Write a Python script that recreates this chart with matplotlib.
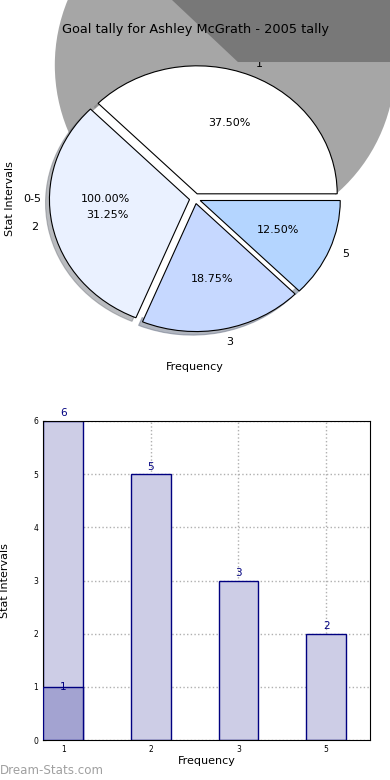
import matplotlib
matplotlib.use('Agg')
import matplotlib.pyplot as plt
from matplotlib.patches import Ellipse, Polygon

# data
title = 'Goal tally for Ashley McGrath - 2005 tally'
freq_labels = ['1', '2', '3', '5']
counts = [6, 5, 3, 2]
interval_labels = ['0-5']
interval_totals = [16]
overlay_labels = ['1']
overlay_counts = [1]

pie_colors = ['#ffffff', '#eaf1ff', '#c6d8ff', '#b4d5ff']
bar_light = '#cdcde6'
bar_dark = '#a3a3d1'
navy = '#000080'

fig = plt.figure(figsize=(3.9, 7.8), dpi=100)

# ---- pie part ----
ax1 = fig.add_axes([45/390, 1-352/780, 300/390, 300/780])
# odd grey backdrop seen in original render
ax1.add_patch(Ellipse((0.214, 1.043), 2.43, 2.66, facecolor='#a6a6a6',
                      edgecolor='none', zorder=0, clip_on=False))
fig.add_artist(Polygon([(0.441, 1.0), (0.610, 0.9205), (1.0, 0.9205), (1.0, 1.0)],
                       closed=True, transform=fig.transFigure,
                       facecolor='#787878', edgecolor='none', zorder=0.5))

ax1.pie(interval_totals, labels=interval_labels, colors=['white'],
        autopct='%.2f%%', startangle=0, pctdistance=0.64,
        wedgeprops={'linewidth': 0}, textprops={'fontsize': 8})
ax1.pie(counts, labels=freq_labels, colors=pie_colors, autopct='%.2f%%',
        explode=[0.04]*len(counts), shadow={'shade': 0.5}, startangle=0,
        wedgeprops={'linewidth': 0.8, 'edgecolor': 'black'},
        textprops={'fontsize': 8})
ax1.set_aspect('auto')
ax1.set_xlim(-1.071, 1.071)
ax1.set_ylim(-1.199, 1.145)
ax1.set_frame_on(False)
ax1.set_xticks([])
ax1.set_yticks([])
ax1.set_xlabel('Frequency', fontsize=8)
ax1.set_ylabel('Stat Intervals', fontsize=8)
ax1.xaxis.set_label_coords(0.5, -0.035)
ax1.yaxis.set_label_coords(-0.1, 0.51)
fig.text(0.5, 1-30/780, title, ha='center', va='center', fontsize=9.3, zorder=5)

# ---- bar part ----
ax2 = fig.add_axes([43/390, 40/780, 327/390, 319/780])
x = list(range(len(counts)))
ax2.bar(x, counts, width=0.45, color=bar_light, edgecolor=navy, linewidth=1, zorder=2)
ax2.bar(x[:len(overlay_counts)], overlay_counts, width=0.45, color=bar_dark,
        edgecolor=navy, linewidth=1, zorder=3)
for xi, c in zip(x, counts):
    ax2.text(xi, c + 0.05, str(c), ha='center', va='bottom', color=navy, fontsize=7.5, zorder=4)
for xi, c in zip(x, overlay_counts):
    ax2.text(xi, c, str(c), ha='center', va='center', color=navy, fontsize=7.5, zorder=4)
ax2.set_xlim(-0.23, 3.5)
ax2.set_ylim(0, 6)
ax2.set_xticks(x)
ax2.set_xticklabels(freq_labels)
ax2.set_yticks(range(0, 7))
ax2.tick_params(labelsize=5.5, direction='in', length=2)
ax2.grid(True, linestyle=':', color='#b0b0b0', linewidth=1, zorder=0)
ax2.set_axisbelow(True)
ax2.set_xlabel('Frequency', fontsize=8)
ax2.set_ylabel('Stat Intervals', fontsize=8)
ax2.xaxis.set_label_coords(0.5, -0.05)
ax2.yaxis.set_label_coords(-0.1, 0.5)

fig.text(0.0, 1-770/780, 'Dream-Stats.com', ha='left', va='center',
         fontsize=8.6, color='#a0a0a0')

fig.savefig('out.png', dpi=100)
